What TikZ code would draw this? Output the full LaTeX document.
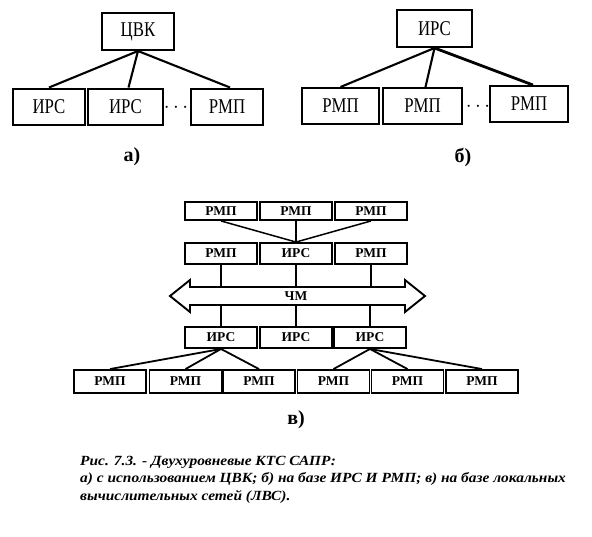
\documentclass[tikz,border=0pt]{standalone}
\usepackage{fontspec}
\setmainfont{Liberation Serif}
\newfontfamily\narrowserif[FakeStretch=0.8]{Liberation Serif}
\newfontfamily\wideserif[FakeStretch=1.1]{Liberation Serif}
\usetikzlibrary{calc}

\begin{document}
\begin{tikzpicture}[x=1pt, y=-1pt,
  big/.style={draw, line width=2pt, minimum height=36pt, inner sep=0pt,
    font=\narrowserif\fontsize{21}{21}\selectfont},
  small/.style={draw, line width=1.9pt, minimum width=72pt, inner sep=0pt,
    font=\bfseries\fontsize{13.5}{13.5}\selectfont},
  link/.style={line width=2.1pt},
  wire/.style={line width=1.5pt},
  dots/.style={font=\fontsize{22}{22}\selectfont},
  tag/.style={font=\bfseries\fontsize{20}{20}\selectfont}]
  \useasboundingbox (0,0) rectangle (592,536);

  % а) ЦВК
  \node[big, minimum width=72pt, minimum height=37pt] (cvk) at (138,31.5) {ЦВК};
  \node[big, minimum width=72pt] (a1) at (49,106.5) {ИРС};
  \node[big, minimum width=75pt] (a2) at (125.5,106.5) {ИРС};
  \node[dots] (adots) at (176,108) {$\cdots$};
  \node[big, minimum width=72pt] (a3) at (227,106.5) {РМП};
  \draw[link] (cvk.south) -- (a1.north);
  \draw[link] (cvk.south) -- ($(a2.north)+(3,0)$);
  \draw[link] (cvk.south) -- ($(a3.north)+(3,0)$);
  \node[tag] (alab) at (132,157) {а)};

  % б) ИРС
  \node[big, minimum width=75pt, minimum height=37pt] (irs) at (434.5,28.5) {ИРС};
  \node[big, minimum width=77pt] (b1) at (340.5,106) {РМП};
  \node[big, minimum width=79pt] (b2) at (422.5,106) {РМП};
  \node[dots] (bdots) at (478,107) {$\cdots$};
  \node[big, minimum width=78pt] (b3) at (529,104) {РМП};
  \draw[link] (irs.south) -- (b1.north);
  \draw[link] (irs.south) -- ($(b2.north)+(3,0)$);
  \draw[link, line width=2.8pt] (irs.south) -- ($(b3.north)+(4,0)$);
  \node[tag] (blab) at (463,157) {б)};

  % в) ЛВС
  \node[small, minimum height=18pt] (t1) at (221,211) {РМП};
  \node[small, minimum height=18pt] (t2) at (296,211) {РМП};
  \node[small, minimum height=18pt] (t3) at (371,211) {РМП};
  \node[small, minimum height=21pt] (m1) at (221,253.5) {РМП};
  \node[small, minimum height=21pt] (m2) at (296,253.5) {ИРС};
  \node[small, minimum height=21pt] (m3) at (371,253.5) {РМП};
  \foreach \t in {t1,t2,t3}
    \draw[wire] (\t.south) -- (m2.north);

  \coordinate (busT) at (296,287);
  \coordinate (busB) at (296,305);
  \draw[line width=1.9pt] (170,296) -- (190,280) -- (190,287) -- (405,287)
    -- (405,280) -- (425,296) -- (405,312) -- (405,305) -- (190,305)
    -- (190,312) -- cycle;
  \node[font=\bfseries\fontsize{13.5}{13.5}\selectfont] (chm) at (296,296) {ЧМ};

  \node[small, minimum height=21pt] (i1) at (221,337.5) {ИРС};
  \node[small, minimum height=21pt] (i2) at (296,337.5) {ИРС};
  \node[small, minimum height=21pt] (i3) at (370,337.5) {ИРС};
  \foreach \m/\i in {m1/i1,m2/i2,m3/i3} {
    \draw[wire] (\m.south) -- (\m.south |- busT);
    \draw[wire] (busB -| \i.north) -- (\i.north);
  }

  \node[small, minimum height=23pt] (r1) at (110,381.5) {РМП};
  \node[small, minimum height=23pt] (r2) at (185.5,381.5) {РМП};
  \node[small, minimum height=23pt] (r3) at (259,381.5) {РМП};
  \node[small, minimum height=23pt] (r4) at (333.5,381.5) {РМП};
  \node[small, minimum height=23pt] (r5) at (407.5,381.5) {РМП};
  \node[small, minimum height=23pt] (r6) at (482,381.5) {РМП};
  \foreach \r in {r1,r2,r3}
    \draw[wire, line width=1.8pt] (i1.south) -- (\r.north);
  \foreach \r in {r4,r5,r6}
    \draw[wire, line width=1.8pt] (i3.south) -- (\r.north);
  \node[tag] (clab) at (296,420) {в)};

  % подпись
  \node[anchor=north west, align=left, inner sep=0pt,
    font=\wideserif\bfseries\itshape\fontsize{14}{17.5}\selectfont] (caption) at (80,456)
    {Рис. 7.3. - Двухуровневые КТС САПР:\\
     а) с использованием ЦВК; б) на базе ИРС И РМП; в) на базе локальных\\
     вычислительных сетей (ЛВС).};
\end{tikzpicture}
\end{document}
